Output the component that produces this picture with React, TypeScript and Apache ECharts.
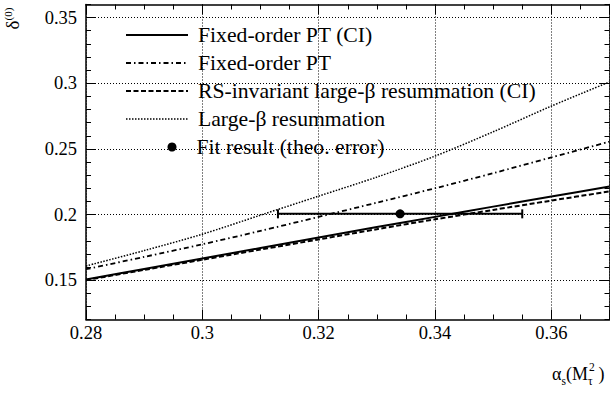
import React, { useEffect, useRef } from 'react';
import * as echarts from 'echarts';

// ---- data ----
const alphaValues = [0.28, 0.29, 0.3, 0.31, 0.32, 0.33, 0.34, 0.35, 0.36, 0.37];
const fixedOrderCI = [0.1505, 0.1585, 0.1665, 0.1745, 0.1825, 0.1904, 0.1982, 0.206, 0.2137, 0.2214];
const fixedOrder = [0.1583, 0.1677, 0.1773, 0.1875, 0.1982, 0.209, 0.22, 0.2315, 0.2435, 0.2555];
const rsInvariantCI = [0.15, 0.1578, 0.1655, 0.1733, 0.181, 0.1888, 0.1963, 0.2035, 0.2106, 0.2176];
const largeBeta = [0.1608, 0.1725, 0.185, 0.1995, 0.214, 0.2285, 0.2445, 0.263, 0.2826, 0.301];

const fitAlpha = [0.334];
const fitDelta = [0.2005];
const fitErrLow = [0.313];
const fitErrHigh = [0.355];

const yMajorTicks = [0.15, 0.2, 0.25, 0.3, 0.35];

const seriesNames = [
  'Fixed-order PT (CI)',
  'Fixed-order PT',
  'RS-invariant large-β resummation (CI)',
  'Large-β resummation',
];
const fitName = 'Fit result (theo. error)';

const serif = 'Liberation Serif';
const black = '#000';

export default function App() {
  const ref = useRef<HTMLDivElement>(null);

  useEffect(() => {
    if (!ref.current) return;
    const chart = echarts.init(ref.current, undefined, { renderer: 'svg' });

    const fmt = (v: number) => String(Math.round(v * 1000) / 1000);
    const frameLine = { show: true, onZero: false, lineStyle: { color: black, width: 1.5 } };
    const minorTick = { show: true, inside: true, length: 5, lineStyle: { color: black, width: 1 } };
    const majorTick = { show: true, inside: true, length: 10, lineStyle: { color: black, width: 1 } };
    const gridDots = { show: true, lineStyle: { color: black, width: 1, type: [1, 2] } };
    const tickFont = { color: black, fontFamily: serif, fontSize: 18.5 };

    const xBase = { type: 'value', min: 0.28, max: 0.37 };
    const yBase = { type: 'value', min: 0.12, max: 0.36 };

    const lineStyles: any[] = [
      { color: black, width: 2, type: 'solid' },
      { color: black, width: 1.8, type: [5, 3, 1.5, 3] },
      { color: black, width: 2, type: [5, 2.5] },
      { color: black, width: 1.5, type: [1.5, 1.5] },
    ];
    const curves = [fixedOrderCI, fixedOrder, rsInvariantCI, largeBeta];

    const lineSeries = curves.map((vals, k) => ({
      type: 'line',
      name: seriesNames[k],
      data: alphaValues.map((x, i) => [x, vals[i]]),
      symbol: 'none',
      showSymbol: false,
      smooth: 0.3,
      itemStyle: { color: black },
      lineStyle: lineStyles[k],
      z: 3,
    }));

    const legendText = { color: black, fontFamily: serif, fontSize: 21.7, lineHeight: 22 };

    const option: any = {
      animation: false,
      textStyle: { fontFamily: serif, color: black },
      grid: { left: 86, right: 0.5, top: 4.5, bottom: 76.5, containLabel: false, outerBoundsMode: 'none' },
      xAxis: [
        { ...xBase, position: 'bottom', interval: 0.005, axisLine: frameLine, axisTick: minorTick, axisLabel: { show: false }, splitLine: { show: false } },
        {
          ...xBase, position: 'bottom', interval: 0.02, axisLine: { show: false }, axisTick: majorTick,
          axisLabel: { show: true, ...tickFont, margin: 4, formatter: (v: number) => (v > 0.365 ? '' : fmt(v)) },
          splitLine: gridDots,
        },
        { ...xBase, position: 'top', interval: 0.005, axisLine: frameLine, axisTick: minorTick, axisLabel: { show: false }, splitLine: { show: false } },
        { ...xBase, position: 'top', interval: 0.02, axisLine: { show: false }, axisTick: majorTick, axisLabel: { show: false }, splitLine: { show: false } },
      ],
      yAxis: [
        { ...yBase, position: 'left', interval: 0.01, axisLine: frameLine, axisTick: minorTick, axisLabel: { show: false }, splitLine: { show: false } },
        {
          ...yBase, position: 'left', interval: 0.01, axisLine: { show: false },
          axisTick: { ...majorTick, customValues: yMajorTicks },
          axisLabel: { show: true, customValues: yMajorTicks, ...tickFont, margin: 9, formatter: (v: number) => fmt(v) },
          splitLine: gridDots,
        },
        { ...yBase, position: 'right', interval: 0.01, axisLine: frameLine, axisTick: minorTick, axisLabel: { show: false }, splitLine: { show: false } },
        {
          ...yBase, position: 'right', interval: 0.01, axisLine: { show: false },
          axisTick: { ...majorTick, customValues: yMajorTicks }, axisLabel: { show: false }, splitLine: { show: false },
        },
      ],
      legend: [
        {
          data: seriesNames,
          orient: 'vertical',
          left: 125,
          top: 24,
          padding: 0,
          itemWidth: 62,
          itemHeight: 14,
          itemGap: 6,
          selectedMode: false,
          itemStyle: { opacity: 0 },
          lineStyle: { width: 'inherit' },
          textStyle: { ...legendText, padding: [0, 0, 0, 5] },
        },
        {
          data: [{ name: fitName, icon: 'circle' }],
          orient: 'vertical',
          left: 167.5,
          top: 136,
          padding: 0,
          itemWidth: 9,
          itemHeight: 9,
          selectedMode: false,
          itemStyle: { color: black, opacity: 1 },
          textStyle: { ...legendText, padding: [0, 0, 0, 15] },
        },
      ],
      graphic: [
        {
          type: 'text',
          x: 12,
          y: 18.5,
          rotation: Math.PI / 2,
          style: {
            text: '{d|δ}{p|(0)}',
            align: 'center',
            verticalAlign: 'middle',
            rich: {
              d: { fontSize: 19, fontFamily: serif, fill: black, lineHeight: 20, verticalAlign: 'bottom' },
              p: { fontSize: 11, fontFamily: serif, fill: black, lineHeight: 11, verticalAlign: 'top' },
            },
          },
        },
        {
          type: 'text',
          x: 552,
          y: 365,
          style: {
            text: '{a|α}{s|s}{a|(M}{t|τ}{a|)}',
            align: 'left',
            verticalAlign: 'top',
            rich: {
              a: { fontSize: 18, fontFamily: serif, fill: black, lineHeight: 22, verticalAlign: 'top' },
              s: { fontSize: 11.5, fontFamily: serif, fill: black, lineHeight: 11, verticalAlign: 'bottom' },
              t: { fontSize: 11.5, fontFamily: serif, fill: black, lineHeight: 11, verticalAlign: 'bottom', padding: [0, 6, 0, 0] },
            },
          },
        },
        {
          type: 'text',
          x: 589,
          y: 361,
          style: { text: '2', fontSize: 11.5, fontFamily: serif, fill: black, align: 'left', verticalAlign: 'top' },
        },
      ],
      series: [
        ...lineSeries,
        {
          type: 'custom',
          name: 'fit-error',
          data: fitAlpha.map((a, i) => [a, fitDelta[i], fitErrLow[i], fitErrHigh[i]]),
          encode: { x: [0, 2, 3], y: 1 },
          z: 4,
          silent: true,
          renderItem: (_params: any, api: any) => {
            const y = api.value(1);
            const lo = api.coord([api.value(2), y]);
            const hi = api.coord([api.value(3), y]);
            const st = { stroke: black, lineWidth: 2 };
            return {
              type: 'group',
              children: [
                { type: 'line', shape: { x1: lo[0], y1: lo[1], x2: hi[0], y2: hi[1] }, style: st },
                { type: 'line', shape: { x1: lo[0], y1: lo[1] - 4.5, x2: lo[0], y2: lo[1] + 4.5 }, style: st },
                { type: 'line', shape: { x1: hi[0], y1: hi[1] - 4.5, x2: hi[0], y2: hi[1] + 4.5 }, style: st },
              ],
            };
          },
        },
        {
          type: 'scatter',
          name: fitName,
          data: fitAlpha.map((a, i) => [a, fitDelta[i]]),
          symbol: 'circle',
          symbolSize: 9,
          itemStyle: { color: black, opacity: 1 },
          z: 5,
        },
      ],
    };

    chart.setOption(option);
    return () => chart.dispose();
  }, []);

  return <div ref={ref} style={{ position: 'absolute', left: 0, top: 0, width: 610, height: 396 }} />;
}
